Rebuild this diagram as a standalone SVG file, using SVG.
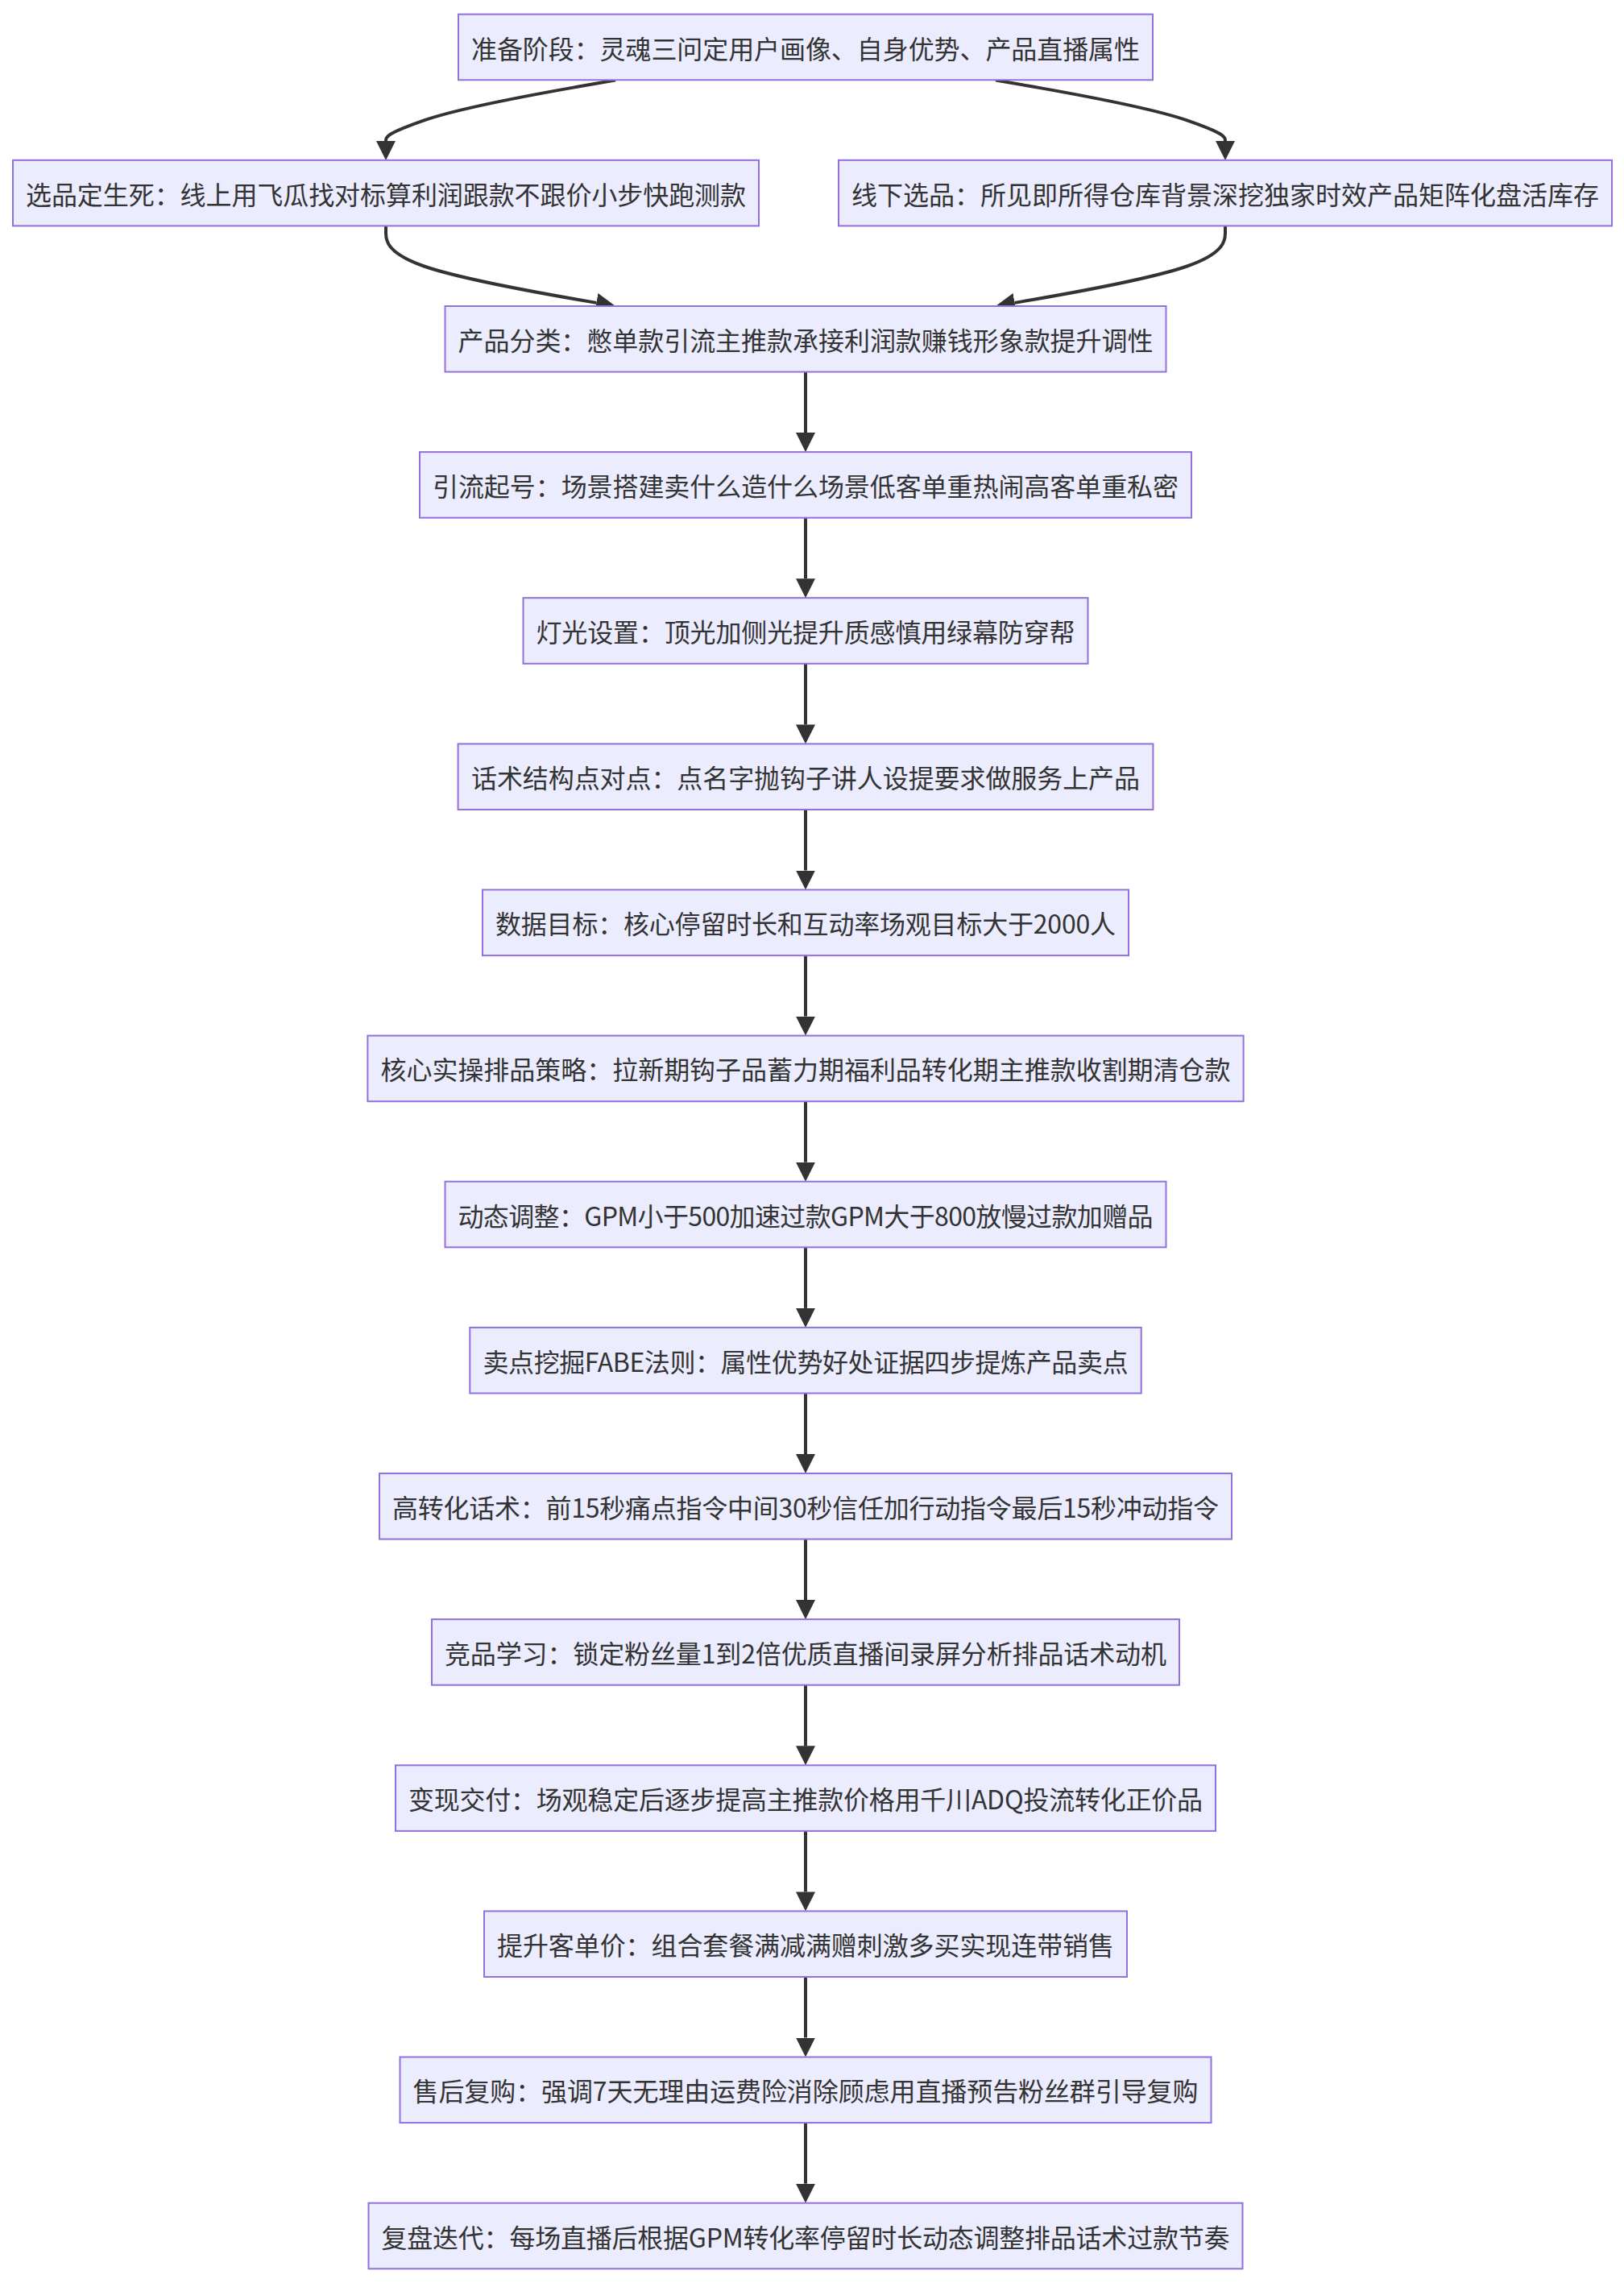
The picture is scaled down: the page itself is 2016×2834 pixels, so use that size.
<svg xmlns="http://www.w3.org/2000/svg" width="2016" height="2834" viewBox="0 0 2016 2834">
<style>
.n rect{fill:#ECECFF;stroke:#9370DB;stroke-width:2}
.n text{font-family:"Noto Sans CJK SC","Noto Sans",sans-serif;font-size:32px;fill:#333333;text-anchor:middle;dominant-baseline:central}
.e path{fill:none;stroke:#333333;stroke-width:4}
</style>
<defs>
<marker id="ah" viewBox="0 0 12 12" refX="0" refY="6" markerUnits="userSpaceOnUse" markerWidth="24" markerHeight="24" orient="auto">
<path d="M0,0 L12,6 L0,12 z" fill="#333333"/>
</marker>
</defs>
<rect width="2016" height="2834" fill="#ffffff"/>
<g id="edges" class="e">
<path d="M764,99.5 L716.5,107.8 C669,116.2 574,132.8 526.5,149.4 C479,166 479,170 479,175" marker-end="url(#ah)"/>
<path d="M1236,99.5 L1283.5,107.8 C1331,116.2 1426,132.8 1473.5,149.4 C1521,166 1521,170 1521,175" marker-end="url(#ah)"/>
<path d="M479,280.5 L479,289.25 C479,297.5 479,314 526.5,330.5 C574,347 669,363.5 716.5,371.75 L740.4,375.9" marker-end="url(#ah)"/>
<path d="M1521,280.5 L1521,289.25 C1521,297.5 1521,314 1473.5,330.5 C1426,347 1331,363.5 1283.5,371.75 L1259.6,375.9" marker-end="url(#ah)"/>
<path d="M1000,461.6 L1000,537.1" marker-end="url(#ah)"/>
<path d="M1000,642.7 L1000,718.2" marker-end="url(#ah)"/>
<path d="M1000,823.8 L1000,899.4" marker-end="url(#ah)"/>
<path d="M1000,1005 L1000,1080.5" marker-end="url(#ah)"/>
<path d="M1000,1186.1 L1000,1261.6" marker-end="url(#ah)"/>
<path d="M1000,1367.2 L1000,1442.7" marker-end="url(#ah)"/>
<path d="M1000,1548.3 L1000,1623.9" marker-end="url(#ah)"/>
<path d="M1000,1729.5 L1000,1805" marker-end="url(#ah)"/>
<path d="M1000,1910.6 L1000,1986.1" marker-end="url(#ah)"/>
<path d="M1000,2091.7 L1000,2167.3" marker-end="url(#ah)"/>
<path d="M1000,2272.9 L1000,2348.4" marker-end="url(#ah)"/>
<path d="M1000,2454 L1000,2529.5" marker-end="url(#ah)"/>
<path d="M1000,2635.1 L1000,2710.7" marker-end="url(#ah)"/>
</g>
<g id="n0" class="n"><rect x="569" y="17.7" width="862" height="81.6"/><text x="1000" y="58.5" textLength="830" lengthAdjust="spacing">准备阶段：灵魂三问定用户画像、自身优势、产品直播属性</text></g>
<g id="n1a" class="n"><rect x="16" y="198.8" width="926" height="81.6"/><text x="479" y="239.6" textLength="894" lengthAdjust="spacing">选品定生死：线上用飞瓜找对标算利润跟款不跟价小步快跑测款</text></g>
<g id="n1b" class="n"><rect x="1041" y="198.8" width="960" height="81.6"/><text x="1521" y="239.6" textLength="928" lengthAdjust="spacing">线下选品：所见即所得仓库背景深挖独家时效产品矩阵化盘活库存</text></g>
<g id="n2" class="n"><rect x="552.5" y="380" width="895" height="81.6"/><text x="1000" y="420.8" textLength="863" lengthAdjust="spacing">产品分类：憋单款引流主推款承接利润款赚钱形象款提升调性</text></g>
<g id="n3" class="n"><rect x="521" y="561.1" width="958" height="81.6"/><text x="1000" y="601.9" textLength="926" lengthAdjust="spacing">引流起号：场景搭建卖什么造什么场景低客单重热闹高客单重私密</text></g>
<g id="n4" class="n"><rect x="649.5" y="742.2" width="701" height="81.6"/><text x="1000" y="783" textLength="669" lengthAdjust="spacing">灯光设置：顶光加侧光提升质感慎用绿幕防穿帮</text></g>
<g id="n5" class="n"><rect x="568.6" y="923.4" width="862.8" height="81.6"/><text x="1000" y="964.2" textLength="830" lengthAdjust="spacing">话术结构点对点：点名字抛钩子讲人设提要求做服务上产品</text></g>
<g id="n6" class="n"><rect x="599" y="1104.5" width="802" height="81.6"/><text x="1000" y="1145.3" textLength="770" lengthAdjust="spacing">数据目标：核心停留时长和互动率场观目标大于2000人</text></g>
<g id="n7" class="n"><rect x="456.4" y="1285.6" width="1087.2" height="81.6"/><text x="1000" y="1326.4" textLength="1055" lengthAdjust="spacing">核心实操排品策略：拉新期钩子品蓄力期福利品转化期主推款收割期清仓款</text></g>
<g id="n8" class="n"><rect x="552.5" y="1466.7" width="895" height="81.6"/><text x="1000" y="1507.5" textLength="863" lengthAdjust="spacing">动态调整：GPM小于500加速过款GPM大于800放慢过款加赠品</text></g>
<g id="n9" class="n"><rect x="583.3" y="1647.9" width="833.4" height="81.6"/><text x="1000" y="1688.7" textLength="801" lengthAdjust="spacing">卖点挖掘FABE法则：属性优势好处证据四步提炼产品卖点</text></g>
<g id="n10" class="n"><rect x="471" y="1829" width="1058" height="81.6"/><text x="1000" y="1869.8" textLength="1026" lengthAdjust="spacing">高转化话术：前15秒痛点指令中间30秒信任加行动指令最后15秒冲动指令</text></g>
<g id="n11" class="n"><rect x="536" y="2010.1" width="928" height="81.6"/><text x="1000" y="2050.9" textLength="896" lengthAdjust="spacing">竞品学习：锁定粉丝量1到2倍优质直播间录屏分析排品话术动机</text></g>
<g id="n12" class="n"><rect x="491" y="2191.3" width="1018" height="81.6"/><text x="1000" y="2232.1" textLength="986" lengthAdjust="spacing">变现交付：场观稳定后逐步提高主推款价格用千川ADQ投流转化正价品</text></g>
<g id="n13" class="n"><rect x="601" y="2372.4" width="798" height="81.6"/><text x="1000" y="2413.2" textLength="766" lengthAdjust="spacing">提升客单价：组合套餐满减满赠刺激多买实现连带销售</text></g>
<g id="n14" class="n"><rect x="496.5" y="2553.5" width="1007" height="81.6"/><text x="1000" y="2594.3" textLength="975" lengthAdjust="spacing">售后复购：强调7天无理由运费险消除顾虑用直播预告粉丝群引导复购</text></g>
<g id="n15" class="n"><rect x="457.5" y="2734.7" width="1085" height="81.6"/><text x="1000" y="2775.5" textLength="1053" lengthAdjust="spacing">复盘迭代：每场直播后根据GPM转化率停留时长动态调整排品话术过款节奏</text></g>
</svg>
